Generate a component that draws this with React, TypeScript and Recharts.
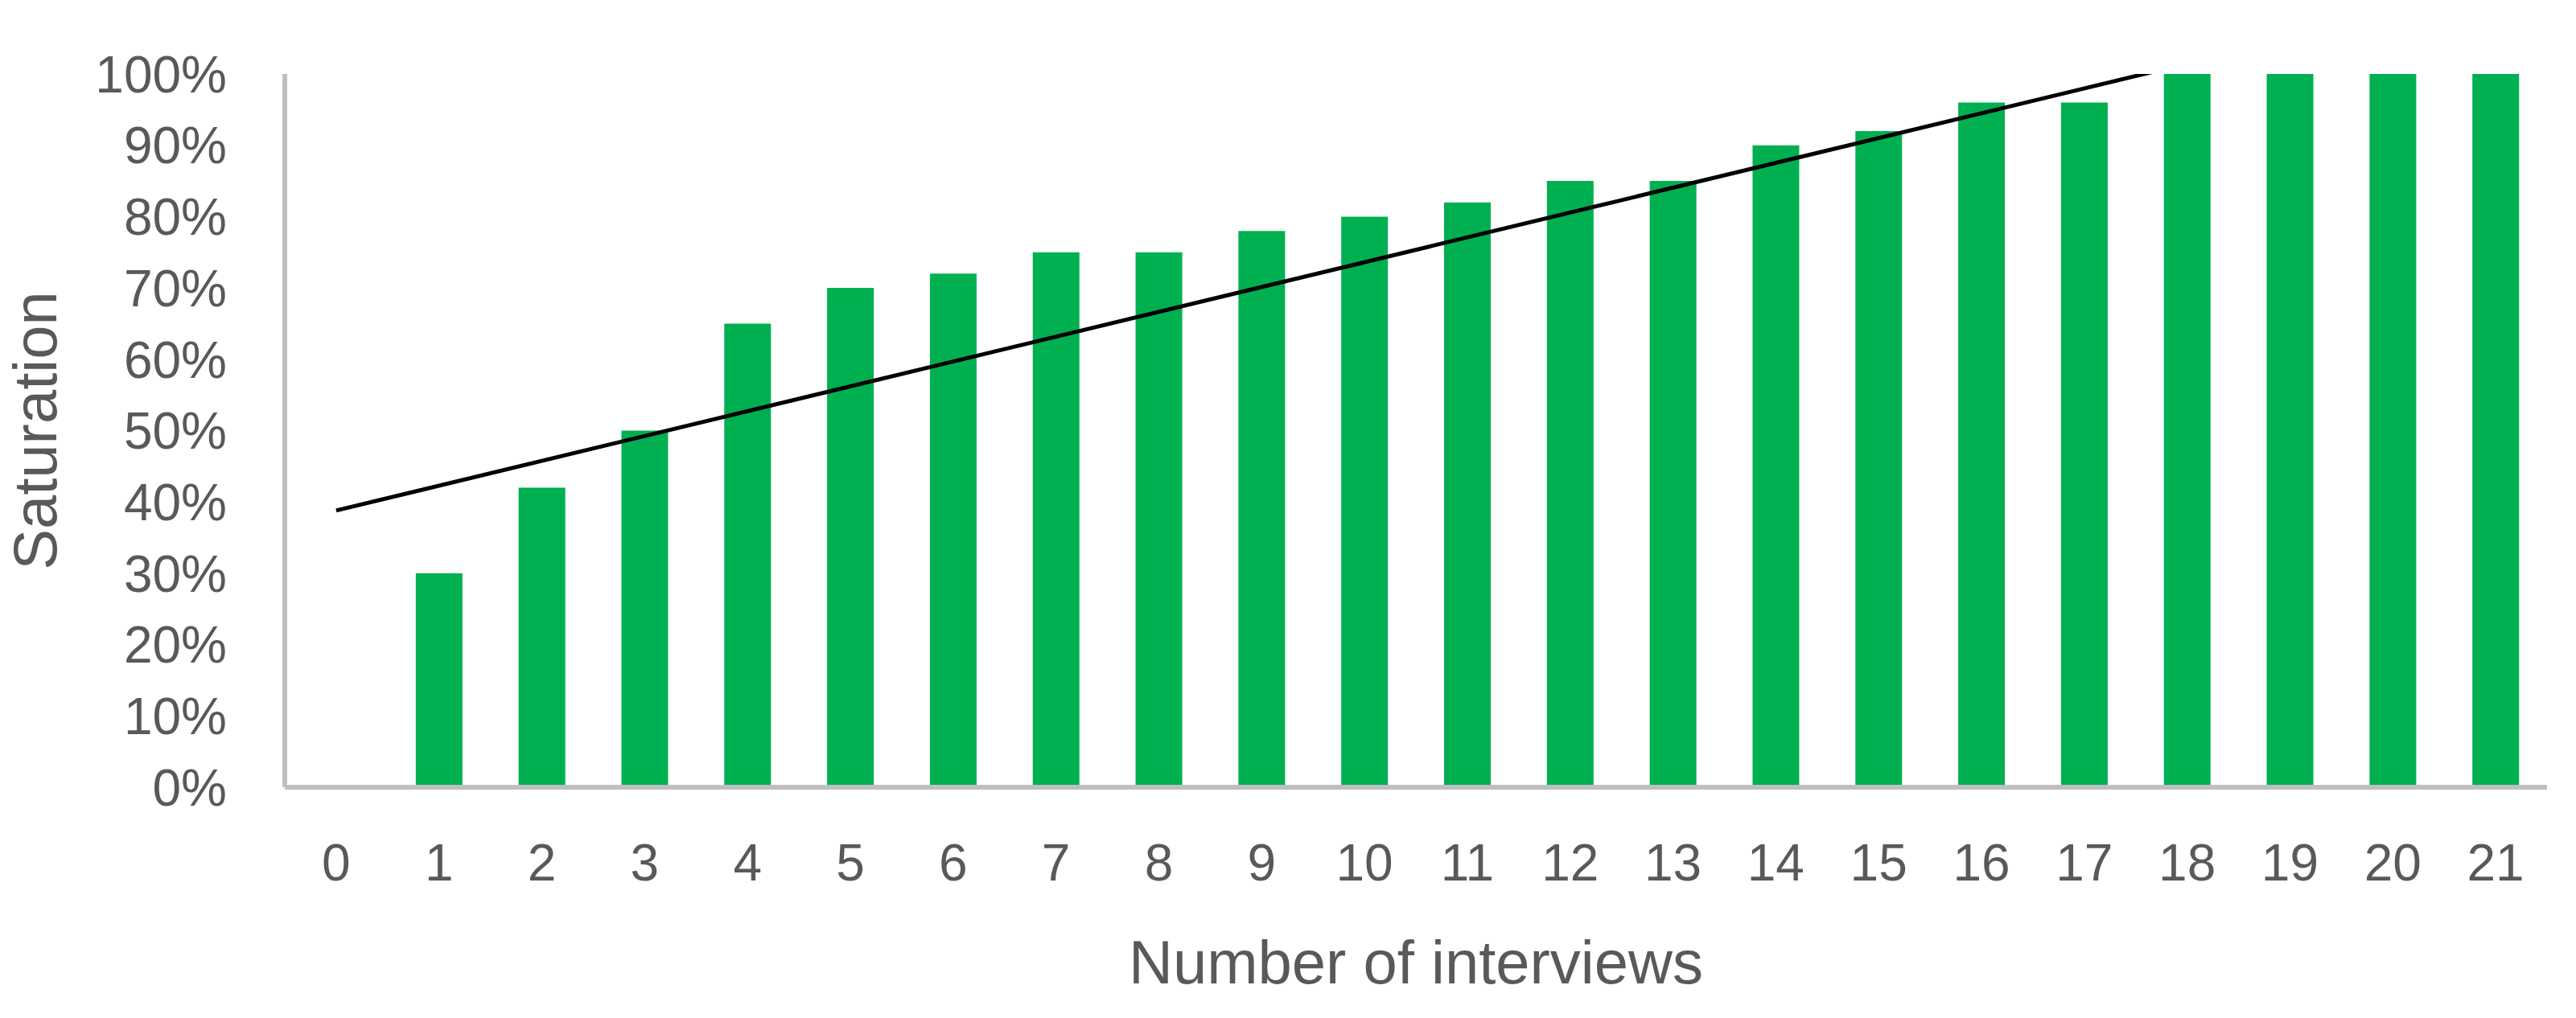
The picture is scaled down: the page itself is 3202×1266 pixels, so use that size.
import React from 'react';
import { BarChart, Bar, XAxis, YAxis, ReferenceLine } from 'recharts';

// number of interviews on the x axis
const interviews = ['0', '1', '2', '3', '4', '5', '6', '7', '8', '9', '10', '11', '12', '13', '14', '15', '16', '17', '18', '19', '20', '21'];

// saturation (%) per interview count
const saturation = [0, 30, 42, 50, 65, 70, 72, 75, 75, 78, 80, 82, 85, 85, 90, 92, 96, 96, 100, 100, 100, 100];

const yTicks = [0, 10, 20, 30, 40, 50, 60, 70, 80, 90, 100];

// linear trend line, read at both ends (runs past 100% and is clipped)
const trendline = [
  { x: '0', y: 38.8 },
  { x: '21', y: 111.9 },
];

const TEXT = '#595959';
const AXIS = '#bfbfbf';
const GREEN = '#00b050';
const FONT = '"Liberation Sans", Arial, sans-serif';

const data = interviews.map((n, i) => ({ n, saturation: saturation[i] }));

export default function App() {
  return (
    <div
      style={{
        position: 'absolute',
        left: 0,
        top: 0,
        width: 3202,
        height: 1266,
        background: '#ffffff',
        fontFamily: FONT,
      }}
    >
      <BarChart
        width={3202}
        height={1266}
        data={data}
        margin={{ top: 92, right: 36, left: 0, bottom: 0 }}
        barSize={58}
      >
        <XAxis
          dataKey="n"
          type="category"
          interval={0}
          height={287}
          tickLine={false}
          tickSize={0}
          tickMargin={71}
          axisLine={{ stroke: AXIS, strokeWidth: 6 }}
          tick={{ fill: TEXT, fontSize: 64, fontFamily: FONT }}
          label={{
            value: 'Number of interviews',
            position: 'insideBottom',
            offset: 43,
            fill: TEXT,
            fontSize: 76,
            fontFamily: FONT,
          }}
        />
        <YAxis
          type="number"
          domain={[0, 100]}
          ticks={yTicks}
          interval={0}
          width={354}
          tickLine={false}
          tickSize={0}
          tickMargin={72}
          tickFormatter={(v: number) => `${v}%`}
          axisLine={{ stroke: AXIS, strokeWidth: 6 }}
          tick={{ fill: TEXT, fontSize: 64, fontFamily: FONT }}
          label={{
            value: 'Saturation',
            angle: -90,
            position: 'insideLeft',
            offset: 43,
            fill: TEXT,
            fontSize: 76,
            fontFamily: FONT,
            style: { textAnchor: 'middle' },
          }}
        />
        <Bar dataKey="saturation" fill={GREEN} isAnimationActive={false} />
        <ReferenceLine
          segment={trendline}
          stroke="#000000"
          strokeWidth={5}
          ifOverflow="hidden"
        />
      </BarChart>
    </div>
  );
}
